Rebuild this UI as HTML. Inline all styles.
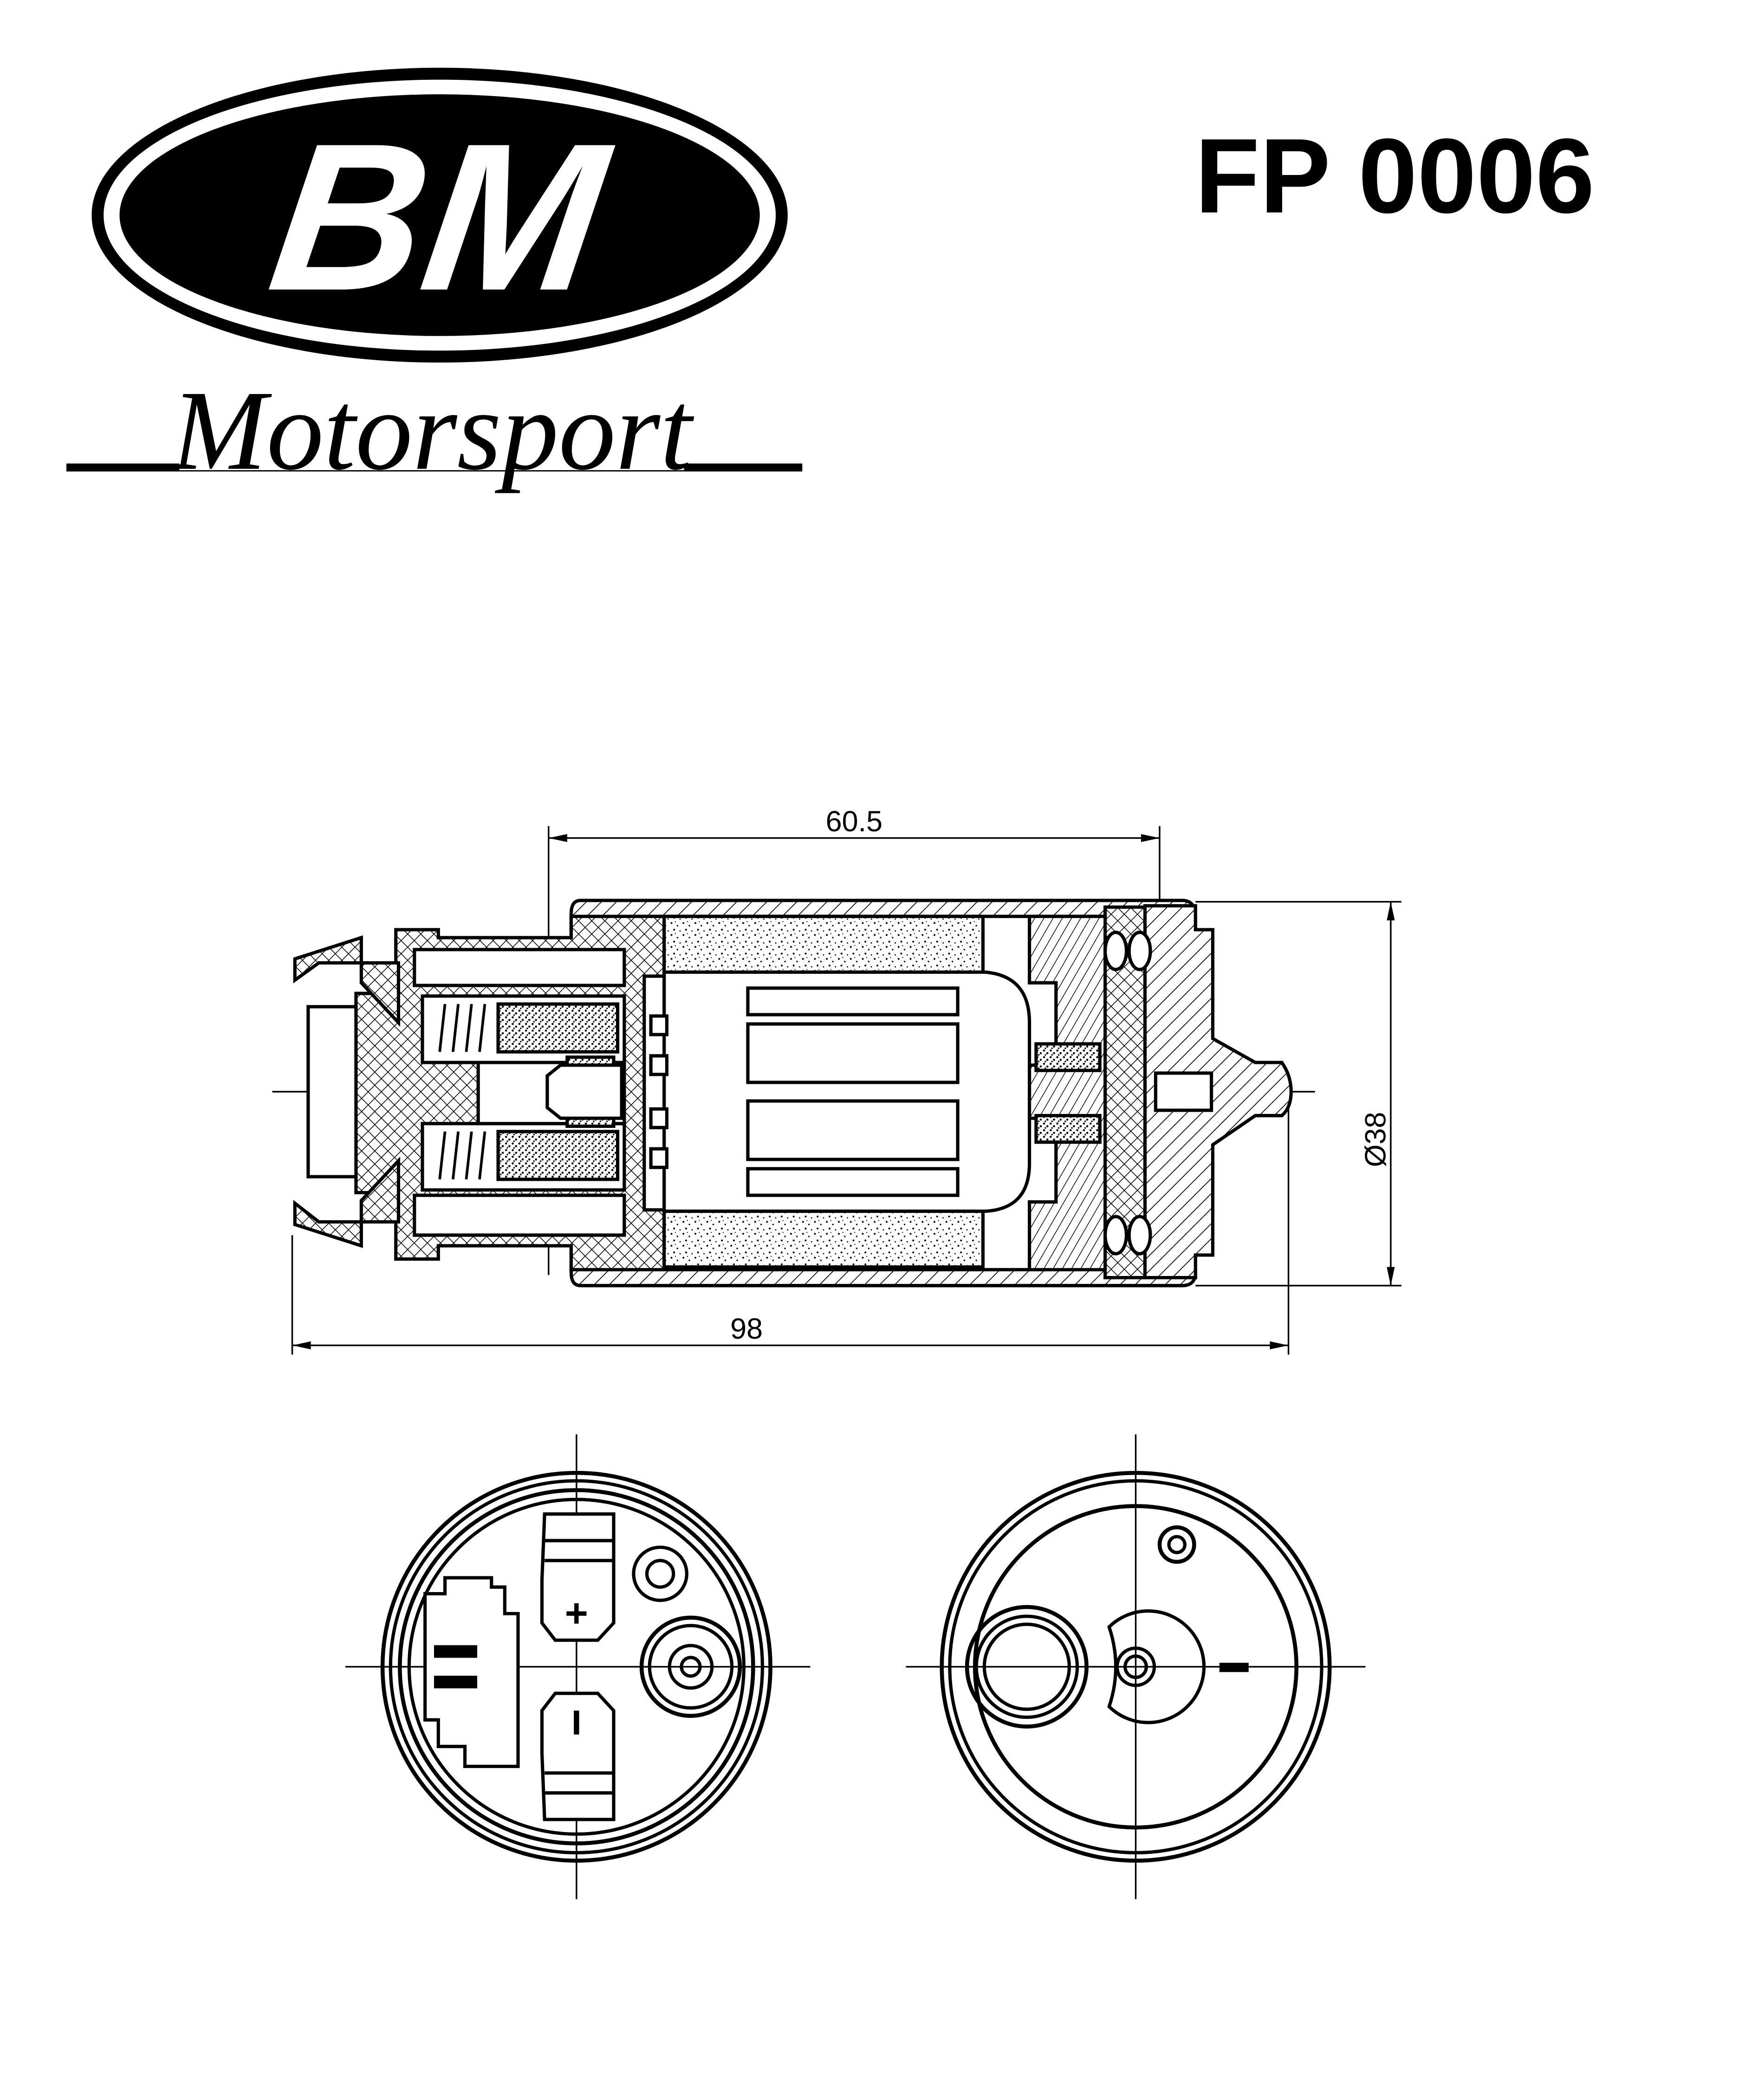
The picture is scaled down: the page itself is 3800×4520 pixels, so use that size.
<!DOCTYPE html>
<html><head><meta charset="utf-8"><style>
html,body{margin:0;padding:0;background:#fff}
svg{display:block}
</style></head><body>
<svg width="3800" height="4520" viewBox="0 0 1328 1579.7" preserveAspectRatio="none" xmlns="http://www.w3.org/2000/svg">
<defs>
<pattern id="xh" width="7" height="7" patternUnits="userSpaceOnUse" patternTransform="rotate(45)">
<rect width="7" height="7" fill="#fff"/><path d="M0 0H7M0 0V7" stroke="#000" stroke-width="1.1"/></pattern>
<pattern id="dh" width="8" height="8" patternUnits="userSpaceOnUse" patternTransform="rotate(-45)">
<rect width="8" height="8" fill="#fff"/><path d="M0 0H8" stroke="#000" stroke-width="1.2"/></pattern>
<pattern id="dh2" width="6" height="6" patternUnits="userSpaceOnUse" patternTransform="rotate(-60)">
<rect width="6" height="6" fill="#fff"/><path d="M0 0H6" stroke="#000" stroke-width="1"/></pattern>
<pattern id="dots" width="9" height="9" patternUnits="userSpaceOnUse">
<rect width="9" height="9" fill="#fff"/><circle cx="1.5" cy="2" r="0.7"/><circle cx="6" cy="4" r="0.6"/><circle cx="3.5" cy="7" r="0.7"/><circle cx="8" cy="8" r="0.5"/><circle cx="4.5" cy="1" r="0.4"/></pattern>
<pattern id="dots2" width="5" height="5" patternUnits="userSpaceOnUse">
<rect width="5" height="5" fill="#fff"/><circle cx="1" cy="1" r="0.8"/><circle cx="3.5" cy="3" r="0.8"/><circle cx="2" cy="4.3" r="0.6"/></pattern>
</defs>

<!-- Logo -->
<ellipse cx="331" cy="162" rx="262" ry="111" fill="#000"/>
<ellipse cx="331" cy="162" rx="253" ry="102" fill="#fff"/>
<ellipse cx="331" cy="162" rx="241" ry="91" fill="#000"/>
<text x="328" y="218" text-anchor="middle" font-family="Liberation Sans, sans-serif" font-weight="bold" font-style="italic" font-size="158" fill="#fff" transform="skewX(-8) translate(25,0)">BM</text>
<rect x="50" y="349" width="554" height="6" fill="#000"/>
<rect x="135" y="330" width="380" height="24" fill="#fff"/>
<text x="325" y="353" text-anchor="middle" font-family="Liberation Serif, serif" font-style="italic" font-size="86" fill="#000">Motorsport</text>

<text x="1050" y="160" text-anchor="middle" font-family="Liberation Sans, sans-serif" font-weight="bold" font-size="80" fill="#000">FP 0006</text>

<!-- Dimensions -->
<g stroke="#000" stroke-width="1.2" fill="none">
<line x1="413" y1="622" x2="413" y2="960"/>
<line x1="873" y1="622" x2="873" y2="690"/>
<line x1="413" y1="631" x2="873" y2="631"/>
<line x1="900" y1="679" x2="1055" y2="679"/>
<line x1="900" y1="968" x2="1055" y2="968"/>
<line x1="1047" y1="679" x2="1047" y2="968"/>
<line x1="220" y1="930" x2="220" y2="1020"/>
<line x1="970" y1="815" x2="970" y2="1020"/>
<line x1="220" y1="1013" x2="970" y2="1013"/>
<line x1="205" y1="822" x2="990" y2="822" stroke-dasharray="30 10"/>
</g>
<g fill="#000">
<path d="M413 631l14-3v6z"/><path d="M873 631l-14-3v6z"/>
<path d="M1047 679l-3 14h6z"/><path d="M1047 968l-3-14h6z"/>
<path d="M220 1013l14-3v6z"/><path d="M970 1013l-14-3v6z"/>
</g>
<text x="643" y="626" text-anchor="middle" font-family="Liberation Sans, sans-serif" font-size="22">60.5</text>
<text x="562" y="1008" text-anchor="middle" font-family="Liberation Sans, sans-serif" font-size="22">98</text>
<text transform="translate(1043,858) rotate(-90)" text-anchor="middle" font-family="Liberation Sans, sans-serif" font-size="22">Ø38</text>

<!-- Pump side view -->
<g stroke="#000" stroke-width="2.5">
<!-- outer shell -->
<path d="M437 678 H890 Q900 678 900 690 V958 Q900 968 890 968 H437 Q430 968 430 958 V688 Q430 678 437 678Z" fill="url(#dh)"/>
<rect x="475" y="690" width="408" height="266" fill="#fff"/>
<!-- left cap -->
<path d="M430 690 H500 V956 H430 V938 H330 V948 H298 V898 H268 V748 H298 V700 H330 V706 H430Z" fill="url(#xh)"/>
<path d="M312 715 H470 V742 H312Z M312 900 H470 V930 H312Z" fill="#fff"/>
<path d="M318 750 H470 V800 H318Z M318 846 H470 V896 H318Z" fill="#fff"/>
<path d="M360 800 H470 V846 H360Z" fill="#fff"/>
<!-- barbs -->
<path d="M222 722 L272 706 V740 L300 770 V725 H240 L222 738Z" fill="url(#xh)"/>
<path d="M222 922 L272 938 V904 L300 874 V920 H240 L222 906Z" fill="url(#xh)"/>
<rect x="232" y="758" width="36" height="128" fill="#fff"/>
<!-- springs / brushes -->
<rect x="375" y="756" width="90" height="36" fill="url(#dots2)"/>
<rect x="375" y="852" width="90" height="36" fill="url(#dots2)"/>
<g stroke-width="2"><path d="M335 756l-4 36M345 756l-4 36M355 756l-4 36M365 756l-4 36M335 852l-4 36M345 852l-4 36M355 852l-4 36M365 852l-4 36" fill="none"/></g>
<rect x="427" y="796" width="35" height="14" fill="url(#dots2)"/>
<rect x="427" y="834" width="35" height="14" fill="url(#dots2)"/>
<path d="M412 810 L422 802 H468 V842 H422 L412 834Z" fill="#fff"/>
<!-- magnets -->
<rect x="500" y="690" width="240" height="42" fill="url(#dots)"/>
<rect x="500" y="912" width="240" height="42" fill="url(#dots)"/>
<!-- armature -->
<rect x="485" y="735" width="17" height="176" fill="#fff"/>
<path d="M500 732 H742 Q775 735 775 770 V876 Q775 910 742 912 H500Z" fill="#fff"/>
<rect x="563" y="744" width="158" height="20" fill="#fff"/>
<rect x="563" y="771" width="158" height="44" fill="#fff"/>
<rect x="563" y="829" width="158" height="44" fill="#fff"/>
<rect x="563" y="880" width="158" height="20" fill="#fff"/>
<path d="M490 765h12v14h-12zM490 795h12v14h-12zM490 835h12v14h-12zM490 865h12v14h-12z" fill="#fff"/>
<!-- shaft -->
<rect x="775" y="808" width="90" height="28" fill="#fff"/>
<!-- pump housing -->
<path d="M775 690 H833 V956 H775 V905 H795 V842 H775 V802 H795 V740 H775Z" fill="url(#dh2)"/>
<rect x="780" y="786" width="48" height="20" fill="url(#dots2)"/>
<rect x="780" y="840" width="48" height="20" fill="url(#dots2)"/>
<path d="M832 683 H862 V962 H832Z" fill="url(#xh)"/>
<path d="M862 682 H900 V700 H913 V782 L945 800 H965 Q972 810 972 822 Q972 834 965 840 H945 L913 862 V945 H900 V962 H862Z" fill="url(#dh)"/>
<rect x="870" y="808" width="42" height="28" fill="#fff"/>
<ellipse cx="840" cy="716" rx="8" ry="14" fill="#fff"/><ellipse cx="858" cy="716" rx="8" ry="14" fill="#fff"/>
<ellipse cx="840" cy="930" rx="8" ry="14" fill="#fff"/><ellipse cx="858" cy="930" rx="8" ry="14" fill="#fff"/>
</g>

<!-- Bottom left view -->
<g stroke="#000" stroke-width="2.5" fill="none">
<line x1="434" y1="1080" x2="434" y2="1430" stroke-width="1.2"/>
<line x1="260" y1="1255" x2="610" y2="1255" stroke-width="1.2"/>
<circle cx="434" cy="1255" r="146" stroke-width="3"/>
<circle cx="434" cy="1255" r="140"/>
<circle cx="434" cy="1255" r="133" stroke-width="3"/>
<circle cx="434" cy="1255" r="126"/>
<path d="M335 1188 H370 V1195 H380 V1215 H390 V1330 H350 V1315 H330 V1295 H320 V1200 H335Z" fill="#fff"/>
<rect x="328" y="1240" width="30" height="7" fill="#000"/><rect x="328" y="1263" width="30" height="7" fill="#000"/>
<path d="M410 1140 H462 V1222 L450 1235 H418 L408 1222 V1190 Z" fill="#fff"/>
<line x1="410" y1="1160" x2="462" y2="1160"/><line x1="410" y1="1175" x2="462" y2="1175"/>
<path d="M410 1370 H462 V1288 L450 1275 H418 L408 1288 V1320 Z" fill="#fff"/>
<line x1="410" y1="1350" x2="462" y2="1350"/><line x1="410" y1="1335" x2="462" y2="1335"/>
<circle cx="497" cy="1185" r="20"/><circle cx="497" cy="1185" r="10"/>
<circle cx="520" cy="1255" r="37" stroke-width="3"/><circle cx="520" cy="1255" r="31"/>
<circle cx="520" cy="1255" r="16"/><circle cx="520" cy="1255" r="7"/>
</g>
<text x="434" y="1225" text-anchor="middle" font-family="Liberation Sans, sans-serif" font-weight="bold" font-size="30">+</text>
<rect x="432" y="1288" width="4" height="18" fill="#000"/>

<!-- Bottom right view -->
<g stroke="#000" stroke-width="2.5" fill="none">
<line x1="855" y1="1080" x2="855" y2="1430" stroke-width="1.2"/>
<line x1="682" y1="1255" x2="1028" y2="1255" stroke-width="1.2"/>
<circle cx="855" cy="1255" r="146" stroke-width="3"/>
<circle cx="855" cy="1255" r="140"/>
<circle cx="855" cy="1255" r="121" stroke-width="3"/>
<circle cx="773" cy="1255" r="45" stroke-width="3"/><circle cx="773" cy="1255" r="38"/><circle cx="773" cy="1255" r="32"/>
<path d="M835 1225 A42 42 0 1 1 835 1285 Q845 1255 835 1225Z"/>
<circle cx="855" cy="1255" r="14"/><circle cx="855" cy="1255" r="8"/>
<circle cx="886" cy="1163" r="13" stroke-width="3"/><circle cx="886" cy="1163" r="6"/>
</g>
<rect x="918" y="1252" width="22" height="7" fill="#000"/>
</svg>
</body></html>
